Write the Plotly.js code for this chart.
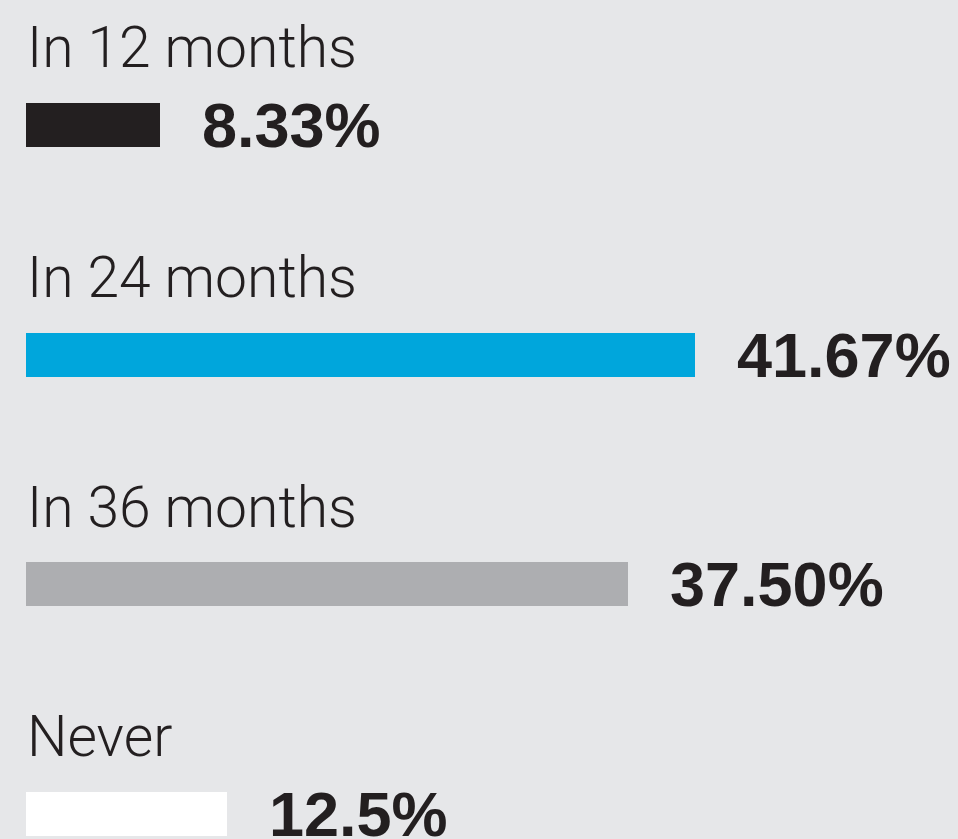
<!DOCTYPE html>
<html>
<head>
<meta charset="utf-8">
<script src="https://cdn.plot.ly/plotly-3.0.1.min.js"></script>
<style>
  html, body { margin: 0; padding: 0; background: #e6e7e9; }
  #chart { width: 958px; height: 839px; }
</style>
</head>
<body>
<div id="chart"></div>
<script>
// Share of respondents by expected timeframe
const categories = ['In 12 months', 'In 24 months', 'In 36 months', 'Never'];
const shares = [8.33, 41.67, 37.50, 12.5];
const valueLabels = ['8.33%', '41.67%', '37.50%', '12.5%'];
const barColors = ['#231f20', '#00a6dc', '#adaeb1', '#ffffff'];

const bars = [{
    type: 'bar',
    orientation: 'h',
    x: shares,
    y: categories.map((c, i) => i),
    width: 0.192,
    marker: { color: barColors, line: { width: 0 } },
    hoverinfo: 'skip'
}];

// category names above each bar
const nameNotes = categories.map((c, i) => ({
    x: 0, y: i, xref: 'x', yref: 'y',
    text: c,
    showarrow: false,
    xanchor: 'left', yanchor: 'middle',
    xshift: -1, yshift: 77,
    font: { family: 'Roboto, "Liberation Sans", sans-serif', size: 57, color: '#231f20', weight: 300 }
}));

// bold values to the right of each bar
const valueNotes = shares.map((v, i) => ({
    x: v, y: i, xref: 'x', yref: 'y',
    text: '<b>' + valueLabels[i] + '</b>',
    showarrow: false,
    xanchor: 'left', yanchor: 'middle',
    xshift: 40, yshift: 0,
    font: { family: '"Liberation Sans", Arial, sans-serif', size: 63, color: '#231f20' }
}));

const layout = {
    width: 958,
    height: 839,
    margin: { l: 26, r: 0, t: 0, b: 0, pad: 0 },
    paper_bgcolor: '#e6e7e9',
    plot_bgcolor: '#e6e7e9',
    showlegend: false,
    bargap: 0,
    xaxis: { range: [0, 58.03], visible: false, fixedrange: true },
    yaxis: { range: [3.109, -0.544], visible: false, fixedrange: true },
    annotations: nameNotes.concat(valueNotes)
};

Plotly.newPlot('chart', bars, layout, { displayModeBar: false, staticPlot: true });
</script>
</body>
</html>
